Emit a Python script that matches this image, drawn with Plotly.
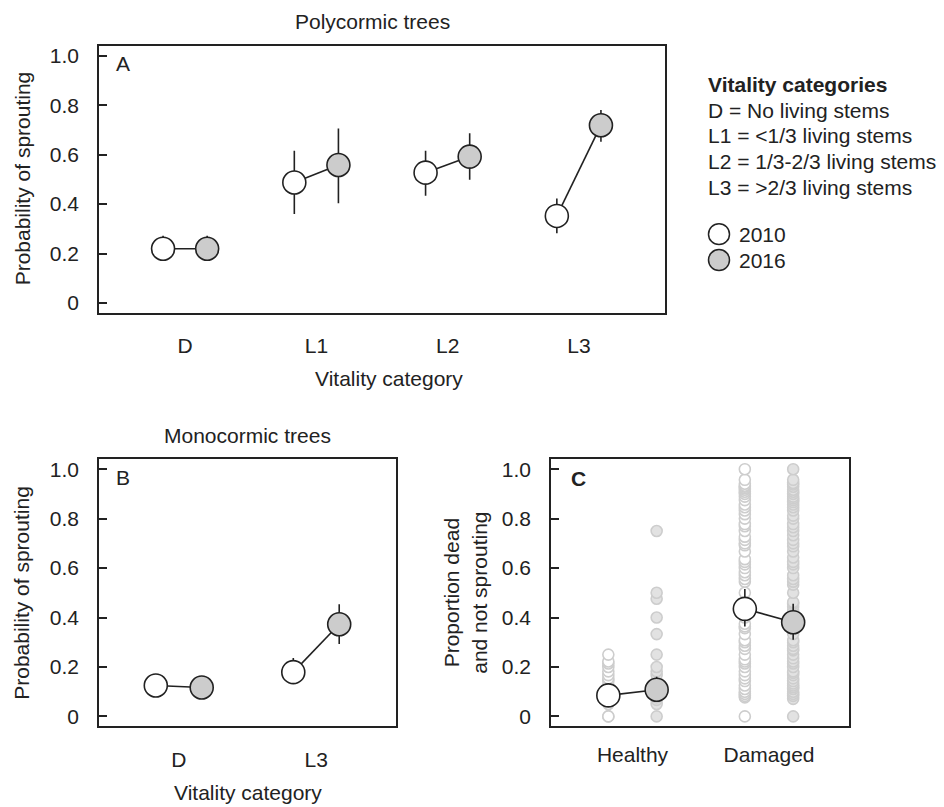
import plotly.graph_objects as go

W, H = 944, 807

# ---------------- data ----------------
cats_A = ["D", "L1", "L2", "L3"]
a2010 = [0.219, 0.487, 0.527, 0.352]
a2010_hi = [0.272, 0.616, 0.616, 0.423]
a2010_lo = [0.180, 0.360, 0.434, 0.282]
a2016 = [0.219, 0.558, 0.592, 0.719]
a2016_hi = [0.272, 0.706, 0.686, 0.780]
a2016_lo = [0.180, 0.403, 0.498, 0.652]

cats_B = ["D", "L3"]
b2010 = [0.125, 0.179]
b2010_hi = [0.140, 0.236]
b2010_lo = [0.110, 0.150]
b2016 = [0.117, 0.373]
b2016_hi = [0.130, 0.454]
b2016_lo = [0.105, 0.293]

cats_C = ["Healthy", "Damaged"]
c2010 = [0.085, 0.435]
c2010_hi = [0.100, 0.515]
c2010_lo = [0.070, 0.364]
c2016 = [0.108, 0.381]
c2016_hi = [0.160, 0.456]
c2016_lo = [0.060, 0.310]

# raw plot-level proportions (panel C)
raw_healthy_2010 = [0, 0, 0.05, 0.067, 0.077, 0.083, 0.091, 0.1, 0.111, 0.125, 0.143,
                    0.154, 0.167, 0.182, 0.2, 0.214, 0.222, 0.25]
raw_healthy_2016 = [0, 0.05, 0.067, 0.077, 0.1, 0.125, 0.143, 0.167, 0.182, 0.2, 0.25,
                    0.333, 0.4, 0.476, 0.5, 0.75]
raw_damaged_2010 = [0, 0.077, 0.083, 0.091, 0.1, 0.111, 0.125, 0.143, 0.154, 0.167, 0.182,
                    0.2, 0.214, 0.222, 0.231, 0.25, 0.273, 0.286, 0.3, 0.308, 0.333, 0.357,
                    0.364, 0.375, 0.4, 0.417, 0.429, 0.444, 0.455, 0.5, 0.545, 0.556, 0.571,
                    0.583, 0.6, 0.615, 0.625, 0.636, 0.667, 0.692, 0.7, 0.714, 0.727, 0.75,
                    0.769, 0.778, 0.8, 0.818, 0.833, 0.846, 0.857, 0.875, 0.889, 0.9, 0.909,
                    0.917, 0.923, 0.929, 0.933, 0.941, 0.957, 1.0]
raw_damaged_2016 = [0, 0.071, 0.083, 0.091, 0.1, 0.111, 0.118, 0.125, 0.133, 0.143, 0.154,
                    0.167, 0.176, 0.182, 0.2, 0.214, 0.222, 0.235, 0.25, 0.267, 0.273, 0.286,
                    0.3, 0.308, 0.333, 0.357, 0.375, 0.385, 0.4, 0.417, 0.429, 0.444, 0.455,
                    0.462, 0.5, 0.533, 0.545, 0.556, 0.571, 0.6, 0.615, 0.625, 0.643, 0.667,
                    0.688, 0.7, 0.714, 0.733, 0.75, 0.765, 0.778, 0.8, 0.812, 0.833, 0.846,
                    0.857, 0.867, 0.875, 0.882, 0.889, 0.9, 0.909, 0.917, 0.929, 0.938,
                    0.944, 0.957, 1.0]

years = ["2010", "2016"]
yticks = [0, 0.2, 0.4, 0.6, 0.8, 1.0]
yticklabels = ["0", "0.2", "0.4", "0.6", "0.8", "1.0"]

# ---------------- style ----------------
FONT = "Arial, Liberation Sans, Helvetica, sans-serif"
FS = 21
INK = "#222222"
FILL16 = "#cccccc"
RAW_LINE = "#cdcdcd"
RAW_FILL16 = "#e2e2e2"
MSIZE = 23

fig = go.Figure()


def add_panel(xa, ya, v10, hi10, lo10, v16, hi16, lo16, off):
    n = len(v10)
    for i in range(n):
        fig.add_trace(go.Scatter(x=[i - off, i + off], y=[v10[i], v16[i]], mode="lines",
                                 line=dict(color=INK, width=1.6), xaxis=xa, yaxis=ya,
                                 showlegend=False, hoverinfo="skip"))
    for vals, hi, lo, fill, sgn, name in [(v10, hi10, lo10, "white", -1, years[0]),
                                           (v16, hi16, lo16, FILL16, 1, years[1])]:
        fig.add_trace(go.Scatter(
            x=[i + sgn * off for i in range(n)], y=vals, mode="markers", name=name,
            marker=dict(size=MSIZE, color=fill, line=dict(color=INK, width=1.6)),
            error_y=dict(type="data", symmetric=False,
                         array=[h - v for h, v in zip(hi, vals)],
                         arrayminus=[v - l for l, v in zip(lo, vals)],
                         color=INK, thickness=1.6, width=0),
            xaxis=xa, yaxis=ya, showlegend=False))


# panel C raw points (behind)
offC = 0.177
for j, (r10, r16) in enumerate([(raw_healthy_2010, raw_healthy_2016),
                                 (raw_damaged_2010, raw_damaged_2016)]):
    fig.add_trace(go.Scatter(x=[j - offC] * len(r10), y=r10, mode="markers",
                             marker=dict(size=11, color="white", line=dict(color=RAW_LINE, width=1.6)),
                             xaxis="x3", yaxis="y3", showlegend=False, hoverinfo="skip"))
    fig.add_trace(go.Scatter(x=[j + offC] * len(r16), y=r16, mode="markers",
                             marker=dict(size=11, color=RAW_FILL16, line=dict(color=RAW_LINE, width=1.6)),
                             xaxis="x3", yaxis="y3", showlegend=False, hoverinfo="skip"))

add_panel("x", "y", a2010, a2010_hi, a2010_lo, a2016, a2016_hi, a2016_lo, 0.168)
add_panel("x2", "y2", b2010, b2010_hi, b2010_lo, b2016, b2016_hi, b2016_lo, 0.167)
add_panel("x3", "y3", c2010, c2010_hi, c2010_lo, c2016, c2016_hi, c2016_lo, offC)


def px_x(p):
    return p / W


def px_y(p):
    return 1 - p / H


def xax(dom, cats, rng, standoff):
    return dict(domain=[px_x(dom[0]), px_x(dom[1])], range=rng, tickvals=list(range(len(cats))),
                ticktext=cats, ticks="", showline=True, mirror=True, linecolor=INK, linewidth=1.6,
                showgrid=False, zeroline=False, ticklabelstandoff=standoff,
                tickfont=dict(family=FONT, size=FS, color=INK), fixedrange=True)


def yax(dom, anchor):
    return dict(domain=[px_y(dom[1]), px_y(dom[0])], range=[-0.04, 1.04], tickvals=yticks,
                ticktext=yticklabels, ticks="inside", ticklen=8, tickwidth=1.5, tickcolor=INK,
                showline=True, mirror=True, linecolor=INK, linewidth=1.6, showgrid=False,
                zeroline=False, anchor=anchor, ticklabelstandoff=14,
                tickfont=dict(family=FONT, size=FS, color=INK), fixedrange=True)


fig.update_layout(
    width=W, height=H, margin=dict(l=0, r=0, t=0, b=0),
    paper_bgcolor="white", plot_bgcolor="white", showlegend=False,
    font=dict(family=FONT, size=FS, color=INK),
    xaxis=dict(xax((99, 665), cats_A, [-0.656, 3.656], 13), anchor="y"),
    yaxis=yax((44, 312), "x"),
    xaxis2=dict(xax((99, 396), cats_B, [-0.58, 1.58], 14), anchor="y2"),
    yaxis2=yax((459, 727), "x2"),
    xaxis3=dict(xax((551, 849), cats_C, [-0.597, 1.586], 9), anchor="y3"),
    yaxis3=yax((459, 727), "x3"),
)

ann = []


def txt(x, y, s, size=FS, angle=0, xanchor="center", align="center"):
    ann.append(dict(x=px_x(x), y=px_y(y), xref="paper", yref="paper", text=s, showarrow=False,
                    textangle=angle, xanchor=xanchor, yanchor="middle", align=align,
                    font=dict(family=FONT, size=size, color=INK)))


txt(372, 20, "Polycormic trees")
txt(247, 435, "Monocormic trees")
txt(389, 378, "Vitality category")
txt(248, 793, "Vitality category")
txt(22, 177, "Probability of sprouting", angle=-90)
txt(22, 593, "Probability of sprouting", angle=-90)
txt(465, 593, "Proportion dead<br>and not sprouting", angle=-90)
txt(123, 62, "A")
txt(123, 477, "B")
txt(578, 478, "<b>C</b>")

legend_lines = ["<b>Vitality categories</b>", "D = No living stems", "L1 = <1/3 living stems",
                "L2 = 1/3-2/3 living stems", "L3 = >2/3 living stems"]
for k, s in enumerate(legend_lines):
    txt(706, 83 + k * 25.7, s.replace("<1", "&lt;1").replace(">2", "&gt;2"), xanchor="left", align="left")
txt(737, 233, "2010", xanchor="left", align="left")
txt(737, 259, "2016", xanchor="left", align="left")
fig.update_layout(annotations=ann)

# legend swatches
shapes = []
for cy, fill in [(233, "white"), (259, FILL16)]:
    shapes.append(dict(type="circle", xref="paper", yref="paper",
                       x0=px_x(719 - 10.5), x1=px_x(719 + 10.5),
                       y0=px_y(cy + 10.5), y1=px_y(cy - 10.5),
                       fillcolor=fill, line=dict(color=INK, width=1.5)))
fig.update_layout(shapes=shapes)

fig.write_html("out.html")
